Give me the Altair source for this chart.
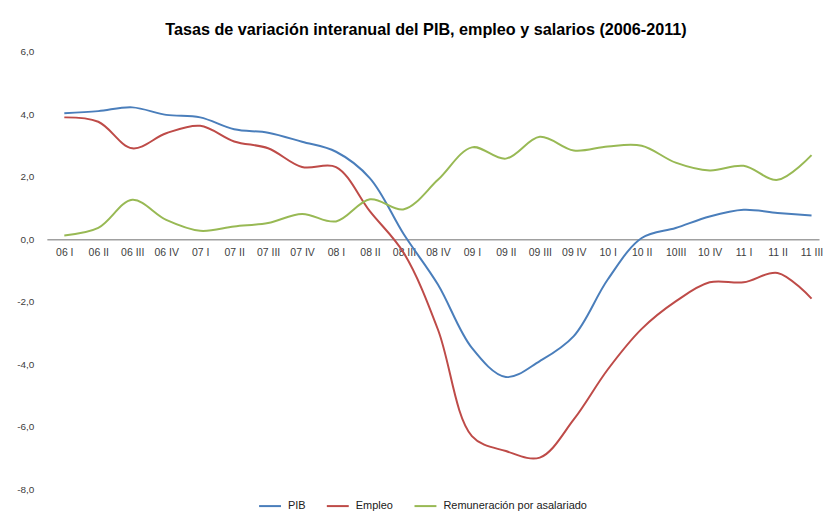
import altair as alt
import pandas as pd

quarters = ["06 I", "06 II", "06 III", "06 IV", "07 I", "07 II", "07 III", "07 IV",
            "08 I", "08 II", "08 III", "08 IV", "09 I", "09 II", "09 III", "09 IV",
            "10 I", "10 II", "10III", "10 IV", "11 I", "11 II", "11 III"]

pib = [4.03, 4.10, 4.22, 3.98, 3.90, 3.52, 3.41, 3.12, 2.80, 1.95, 0.15, -1.45,
       -3.48, -4.41, -3.90, -3.10, -1.29, 0.04, 0.36, 0.73, 0.94, 0.84, 0.76]
empleo = [3.90, 3.76, 2.91, 3.39, 3.63, 3.13, 2.91, 2.31, 2.31, 0.89, -0.45, -2.89,
          -6.30, -6.78, -6.99, -5.77, -4.17, -2.87, -1.99, -1.38, -1.38, -1.08, -1.90]
remuneracion = [0.12, 0.36, 1.26, 0.62, 0.27, 0.41, 0.52, 0.81, 0.57, 1.28, 0.96, 1.90,
                2.94, 2.58, 3.28, 2.84, 2.97, 2.99, 2.45, 2.20, 2.35, 1.90, 2.69]

series_names = ["PIB", "Empleo", "Remuneración por asalariado"]
series_colors = ["#4A7EBB", "#BE4B48", "#98B954"]
y_ticks = [6, 4, 2, 0, -2, -4, -6, -8]

rows = []
for name, vals in zip(series_names, [pib, empleo, remuneracion]):
    for q, v in zip(quarters, vals):
        rows.append({"trimestre": q, "serie": name, "valor": v})
df = pd.DataFrame(rows)

H = 439
W = 775

chart = alt.Chart(df).mark_line(interpolate="catmull-rom", strokeWidth=2).encode(
    x=alt.X("trimestre:N", sort=quarters, title=None,
            scale=alt.Scale(type="point", padding=0.367, align=0.7),
            axis=alt.Axis(orient="bottom", offset=-H * 8 / 14, labelAngle=0,
                          ticks=False, tickSize=0, labelPadding=8,
                          domainColor="#A0A0A0", domainWidth=1.5,
                          labelFont="Liberation Sans", labelFontSize=10.5,
                          labelColor="#404040", grid=False)),
    y=alt.Y("valor:Q", title=None,
            scale=alt.Scale(domain=[-8, 6], nice=False, zero=False),
            axis=alt.Axis(values=y_ticks, grid=False, domain=False, ticks=False,
                          tickSize=0, labelPadding=13,
                          labelExpr="(datum.value < 0 ? '-' : '') + replace(format(abs(datum.value), '.1f'), '.', ',')",
                          labelFont="Liberation Sans", labelFontSize=10,
                          labelColor="#404040")),
    color=alt.Color("serie:N", sort=series_names,
                    scale=alt.Scale(domain=series_names, range=series_colors),
                    legend=alt.Legend(title=None, orient="none", direction="horizontal",
                                      legendX=212, legendY=444,
                                      symbolType="stroke", symbolSize=484,
                                      symbolStrokeWidth=2, labelOffset=6,
                                      columnPadding=17,
                                      labelFont="Liberation Sans", labelFontSize=11,
                                      labelColor="#202020")),
).properties(
    width=W,
    height=H,
    background="#FFFFFF",
    padding={"left": 8, "top": 13, "right": 0, "bottom": 0},
    title=alt.TitleParams(
        "Tasas de variación interanual del PIB, empleo y salarios (2006-2011)",
        font="Liberation Sans", fontSize=16.25, fontWeight="bold", color="#000000",
        anchor="middle", dx=-7, offset=8.5),
).configure_view(stroke=None).configure_axis(grid=False)

chart.save("out.html", embed_options={"renderer": "svg", "actions": False})
